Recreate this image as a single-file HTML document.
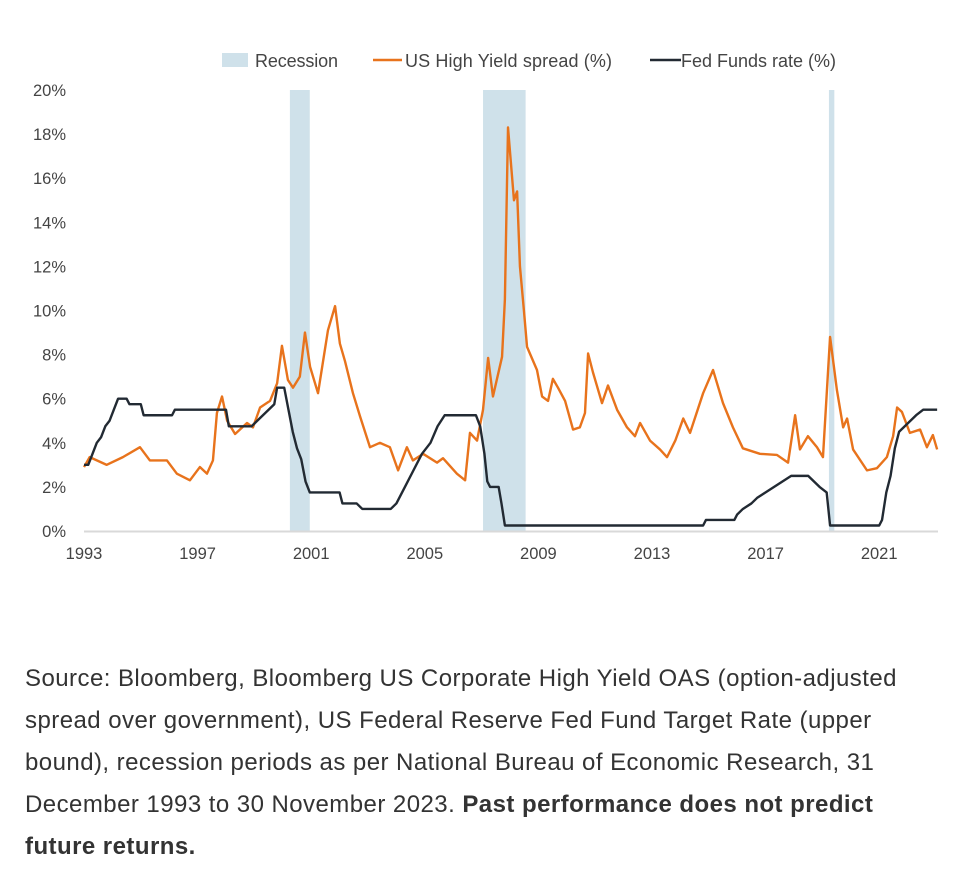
<!DOCTYPE html>
<html><head><meta charset="utf-8"><style>
body{margin:0;background:#fff;width:980px;height:877px;overflow:hidden;font-family:"Liberation Sans",Arial,sans-serif}
#src{position:absolute;left:25px;top:658px;font-size:24px;line-height:42px;color:#333;letter-spacing:0.45px;word-spacing:0px}
</style></head><body>
<svg id="chart" width="980" height="640" style="position:absolute;left:0;top:0"></svg>
<div id="src">Source: Bloomberg, Bloomberg US Corporate High Yield OAS (option-adjusted<br>spread over government), US Federal Reserve Fed Fund Target Rate (upper<br>bound), recession periods as per National Bureau of Economic Research, 31<br>December 1993 to 30 November 2023. <b>Past performance does not predict<br>future returns.</b></div>
<script>
const yTicks=[0,2,4,6,8,10,12,14,16,18,20];
const xTicks=[1993,1997,2001,2005,2009,2013,2017,2021];
const recStart=[2000.25,2007.05,2019.23];
const recEnd=[2000.95,2008.55,2019.42];
const hyYears=[1993.0,1993.2,1993.8,1994.37,1994.97,1995.32,1995.92,1996.27,1996.73,1997.08,1997.33,1997.54,1997.68,1997.86,1998.04,1998.32,1998.74,1998.95,1999.2,1999.55,1999.8,1999.97,2000.18,2000.36,2000.6,2000.78,2000.96,2001.24,2001.59,2001.84,2002.01,2002.19,2002.47,2002.72,2003.07,2003.42,2003.77,2004.06,2004.37,2004.58,2004.94,2005.43,2005.64,2006.13,2006.42,2006.59,2006.84,2007.05,2007.23,2007.4,2007.72,2007.82,2007.93,2008.14,2008.25,2008.35,2008.49,2008.6,2008.95,2009.13,2009.34,2009.51,2009.69,2009.94,2010.22,2010.46,2010.64,2010.75,2010.92,2011.24,2011.45,2011.77,2012.12,2012.4,2012.58,2012.93,2013.28,2013.53,2013.82,2014.1,2014.34,2014.8,2015.15,2015.5,2015.85,2016.2,2016.8,2017.4,2017.79,2018.04,2018.21,2018.49,2018.81,2019.02,2019.27,2019.51,2019.73,2019.87,2020.08,2020.57,2020.92,2021.27,2021.49,2021.63,2021.8,2022.08,2022.44,2022.68,2022.89,2023.04];
const hyValues=[2.9,3.35,3.0,3.35,3.8,3.2,3.2,2.6,2.3,2.9,2.6,3.2,5.35,6.1,5.0,4.4,4.9,4.7,5.6,5.9,6.7,8.4,6.85,6.5,7.0,9.0,7.45,6.25,9.1,10.2,8.5,7.7,6.25,5.2,3.8,4.0,3.8,2.75,3.8,3.2,3.5,3.1,3.3,2.6,2.3,4.45,4.1,5.5,7.85,6.1,7.9,10.5,18.3,15.0,15.4,12.0,10.0,8.35,7.3,6.1,5.9,6.9,6.5,5.9,4.6,4.7,5.35,8.05,7.2,5.8,6.6,5.5,4.7,4.3,4.9,4.1,3.7,3.35,4.1,5.1,4.45,6.25,7.3,5.8,4.7,3.75,3.5,3.45,3.1,5.25,3.7,4.3,3.8,3.35,8.8,6.4,4.7,5.1,3.7,2.75,2.85,3.35,4.3,5.6,5.4,4.45,4.6,3.8,4.35,3.7];
const ffYears=[1993.0,1993.15,1993.3,1993.45,1993.6,1993.75,1993.9,1994.05,1994.2,1994.5,1994.6,1995.0,1995.1,1996.1,1996.2,1998.0,1998.1,1998.9,1999.1,1999.3,1999.5,1999.7,1999.8,2000.05,2000.2,2000.35,2000.5,2000.65,2000.8,2000.95,2002.0,2002.1,2002.6,2002.8,2003.8,2004.0,2004.3,2004.6,2004.9,2005.2,2005.45,2005.7,2006.8,2006.95,2007.1,2007.2,2007.3,2007.6,2007.7,2007.82,2014.8,2014.9,2015.9,2016.0,2016.2,2016.5,2016.7,2017.0,2017.3,2017.6,2017.9,2018.5,2018.7,2018.9,2019.15,2019.27,2021.0,2021.1,2021.25,2021.4,2021.55,2021.7,2021.9,2022.1,2022.3,2022.55,2023.04];
const ffValues=[3.0,3.0,3.5,4.0,4.25,4.75,5.0,5.5,6.0,6.0,5.75,5.75,5.25,5.25,5.5,5.5,4.75,4.75,5.0,5.25,5.5,5.75,6.5,6.5,5.5,4.5,3.75,3.25,2.25,1.75,1.75,1.25,1.25,1.0,1.0,1.25,2.0,2.75,3.5,4.0,4.75,5.25,5.25,4.75,3.5,2.25,2.0,2.0,1.25,0.25,0.25,0.5,0.5,0.75,1.0,1.25,1.5,1.75,2.0,2.25,2.5,2.5,2.25,2.0,1.75,0.25,0.25,0.5,1.75,2.5,3.75,4.5,4.75,5.0,5.25,5.5,5.5];
const NS='http://www.w3.org/2000/svg';
const svg=document.getElementById('chart');
const X=t=>84+(t-1993)*28.4;
const Y=v=>531-v*22.05;
function mk(tag,attrs,parent){const e=document.createElementNS(NS,tag);for(const k in attrs)e.setAttribute(k,attrs[k]);(parent||svg).appendChild(e);return e;}
recStart.forEach((s,i)=>{
  const r=mk('rect',{x:X(s),y:90,width:X(recEnd[i])-X(s),height:441,fill:'#cfe1ea'});
  
  
});
const ax=mk('line',{x1:84,x2:938,y1:531.5,y2:531.5,stroke:'#d9d9d9','stroke-width':2});


yTicks.forEach(v=>{
  const t=mk('text',{x:66,y:Y(v)+6,'text-anchor':'end','font-size':16.5,fill:'#444'});
  t.textContent=v+'%';
  
  
});
xTicks.forEach(v=>{
  const t=mk('text',{x:X(v),y:559,'text-anchor':'middle','font-size':16.5,fill:'#444'});
  t.textContent=v;
  
  
});
const hy=mk('polyline',{points:hyYears.map((t,i)=>X(t)+','+Y(hyValues[i])).join(' '),fill:'none',stroke:'#e8731c','stroke-width':2.4,'stroke-linejoin':'round'});


const ff=mk('polyline',{points:ffYears.map((t,i)=>X(t)+','+Y(ffValues[i])).join(' '),fill:'none',stroke:'#222a33','stroke-width':2.4,'stroke-linejoin':'round'});


const lg=mk('g',{});


mk('rect',{x:222,y:53,width:26,height:14,fill:'#cfe1ea'},lg);
let t1=mk('text',{x:255,y:67,'font-size':18,fill:'#444',textLength:83},lg);t1.textContent='Recession';
mk('line',{x1:373,x2:402,y1:60,y2:60,stroke:'#e8731c','stroke-width':2.5},lg);
let t2=mk('text',{x:405,y:67,'font-size':18,fill:'#444',textLength:207},lg);t2.textContent='US High Yield spread (%)';
mk('line',{x1:650,x2:681,y1:60,y2:60,stroke:'#222a33','stroke-width':2.5},lg);
let t3=mk('text',{x:681,y:67,'font-size':18,fill:'#444',textLength:155},lg);t3.textContent='Fed Funds rate (%)';
</script>
</body></html>
